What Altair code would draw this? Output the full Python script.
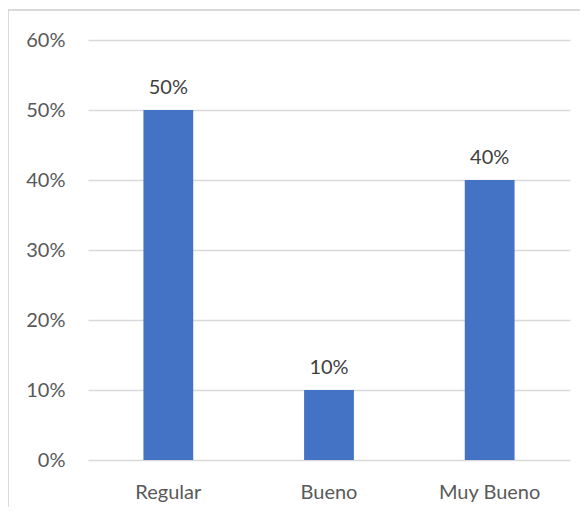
import altair as alt
import pandas as pd

categories = ["Regular", "Bueno", "Muy Bueno"]
values = [0.50, 0.10, 0.40]
labels = ["50%", "10%", "40%"]

df = pd.DataFrame({"cat": categories, "val": values, "lab": labels})

FONT = "Lato"

x = alt.X("cat:N", sort=categories, title=None,
          scale=alt.Scale(paddingInner=0.69, paddingOuter=0.345),
          axis=alt.Axis(labelAngle=0, labelPadding=22))
y = alt.Y("val:Q", title=None,
          scale=alt.Scale(domain=[0, 0.6]),
          axis=alt.Axis(format=".0%", values=[0, 0.1, 0.2, 0.3, 0.4, 0.5, 0.6],
                        labelPadding=23))

bars = alt.Chart(df).mark_bar(color="#4472C4").encode(x=x, y=y)
text = alt.Chart(df).mark_text(dy=-16, baseline="alphabetic", fontSize=20,
                               color="#404040", font=FONT).encode(
    x=alt.X("cat:N", sort=categories), y=alt.Y("val:Q"),
    text="lab:N")

border_top = alt.Chart(df).mark_rule(color="#d9d9d9", strokeWidth=2).encode(
    x=alt.value(-80), x2=alt.value(500), y=alt.value(-30))
border_left = alt.Chart(df).mark_rule(color="#d9d9d9", strokeWidth=2).encode(
    x=alt.value(-80), y=alt.value(-30), y2=alt.value(480))

chart = alt.layer(border_top, border_left, bars, text).properties(
    width=482, height=420,
    background="white",
    autosize=alt.AutoSizeParams(type="none"),
    padding={"left": 80, "top": 32, "right": 10, "bottom": 47},
).configure_view(strokeWidth=0).configure_axis(
    domain=False, ticks=False, labelFontSize=20, labelColor="#595959",
    labelFont=FONT, gridColor="#d9d9d9", gridWidth=1.5
).configure_axisX(grid=False)

chart.save("out.html", embed_options={"renderer": "svg", "actions": False})
